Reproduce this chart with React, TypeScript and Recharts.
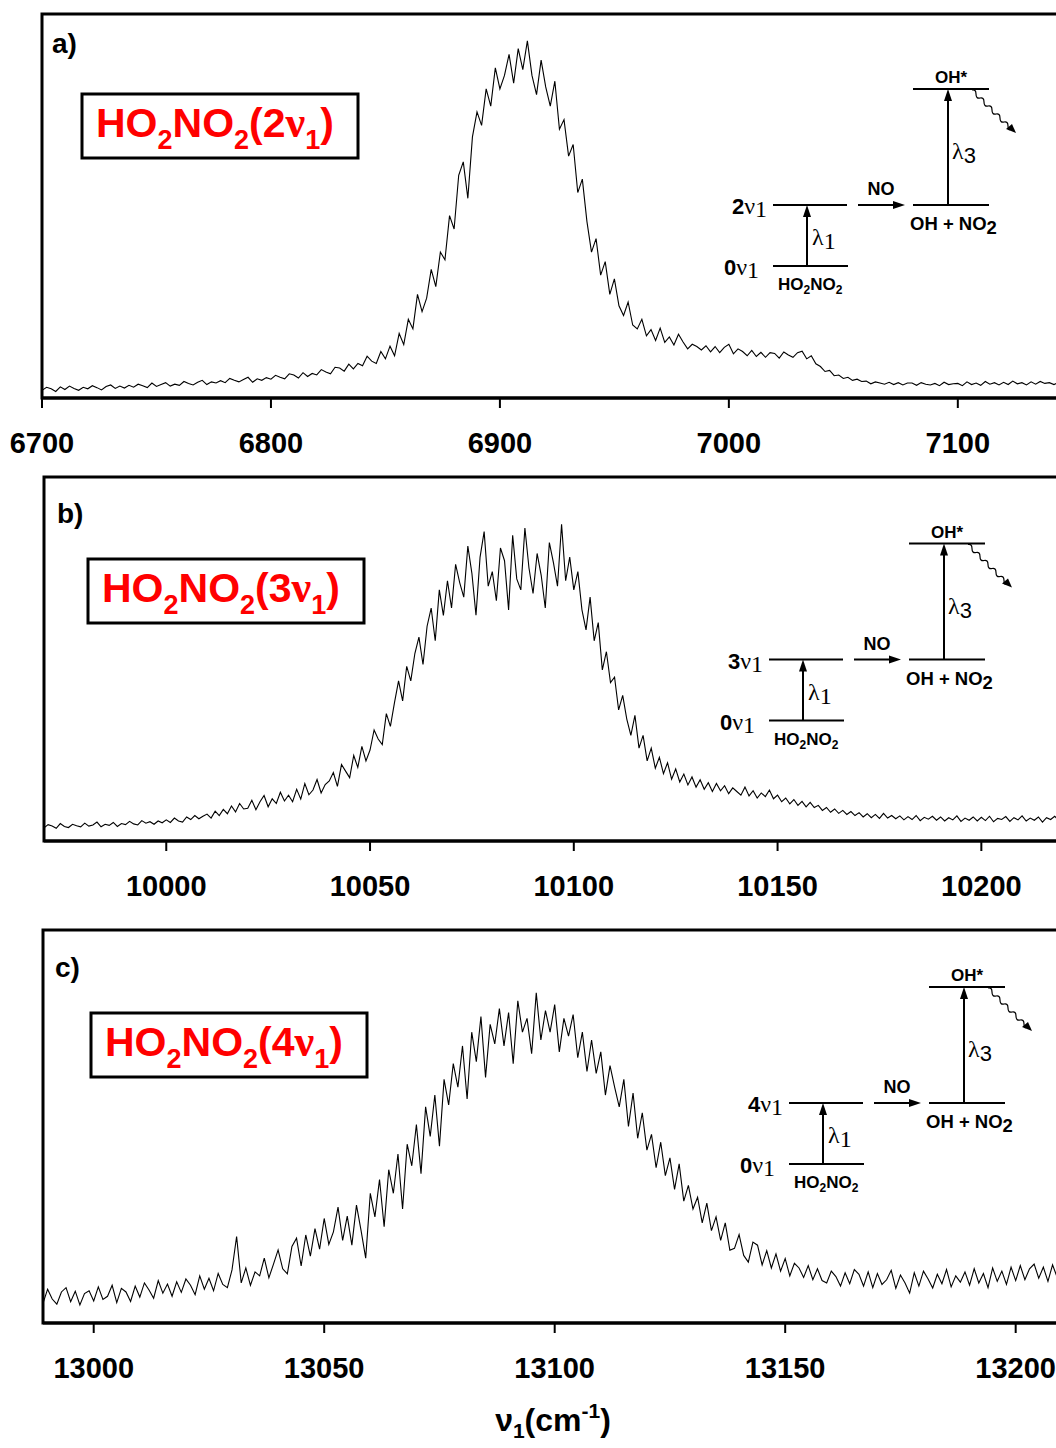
import React from 'react';
import { LineChart, Line, XAxis, YAxis, ReferenceArea } from 'recharts';

const SANS = "'Liberation Sans', Arial, sans-serif";
const SERIF = "'Liberation Serif', 'Times New Roman', serif";

// panel a: 2v1 band, sampled every 2 cm-1 from 6700
const A_START = 6700;
const A_STEP = 2;
const A_TICKS = [6700, 6800, 6900, 7000, 7100];
const A_SIGNAL = [
  2.0, 2.8, 2.4, 1.7, 2.9, 2.2, 3.1, 2.5, 2.0, 2.8,
  2.4, 3.2, 2.7, 2.1, 3.0, 3.4, 2.5, 3.1, 2.6, 3.3,
  2.8, 3.6, 3.2, 2.7, 3.9, 3.0, 3.5, 4.0, 3.1, 3.6,
  3.3, 4.3, 3.8, 3.4, 4.1, 4.6, 3.5, 4.2, 3.9, 4.5,
  4.0, 5.1, 4.6, 4.2, 4.8, 5.4, 4.1, 5.0, 4.6, 5.3,
  4.9, 5.9, 5.4, 5.0, 6.3, 6.0, 5.2, 6.6, 5.6, 6.4,
  6.0, 7.4, 6.8, 6.3, 8.0, 7.8, 7.0, 8.8, 7.6, 9.0,
  8.4, 10.9, 9.6, 9.0, 12.1, 10.2, 13.5, 11.0, 16.8, 13.9,
  20.5, 18.0, 27.0, 22.5, 26.0, 33.5, 29.0, 38.0, 36.0, 47.5,
  44.0, 58.0, 61.5, 52.0, 68.0, 74.5, 71.0, 80.5, 76.0, 86.0,
  80.5, 84.0, 89.5, 82.0, 91.0, 85.5, 93.0, 84.0, 79.0, 88.0,
  81.0, 76.0, 82.5, 70.0, 72.5, 63.0, 66.0, 53.5, 57.0, 46.0,
  38.0, 41.5, 32.0, 35.5, 27.0, 31.0, 24.0, 21.5, 25.0, 19.0,
  18.0, 20.5, 16.2, 17.8, 15.0, 18.2, 14.5, 15.9, 13.8, 16.6,
  14.6, 12.8, 14.0, 13.4, 12.5, 13.6, 12.0, 13.4, 11.8, 13.2,
  14.0, 11.5, 12.8, 12.1, 11.0, 12.4, 10.8, 11.9, 10.6, 11.8,
  11.6, 10.4, 12.0, 11.2, 10.6, 11.8, 12.2, 10.2, 11.0, 8.9,
  8.2, 6.9, 7.2, 5.8, 6.0, 5.1, 5.4, 4.6, 4.9, 4.3,
  4.4, 3.7, 4.2, 3.9, 3.6, 4.1, 3.5, 4.0, 3.4, 3.9,
  3.9, 3.3, 4.0, 3.6, 3.4, 3.8, 3.2, 4.1, 3.5, 3.7,
  3.8, 3.2, 4.2, 3.5, 3.9, 3.3, 4.3, 3.6, 4.0, 3.4,
  4.1, 3.5, 4.4, 3.7, 4.0, 3.4, 4.2, 3.6, 4.3, 3.8,
  4.0, 3.5, 4.1, 3.7, 4.2,
];

// panel b: 3v1 band, every 1 cm-1 from 9970
const B_START = 9970;
const B_STEP = 1;
const B_TICKS = [10000, 10050, 10100, 10150, 10200];
const B_SIGNAL = [
  3.6, 4.5, 4.1, 3.5, 4.8, 4.0, 3.7, 4.6, 4.2, 3.9,
  4.9, 4.1, 4.4, 5.2, 3.9, 4.6, 4.3, 5.1, 4.0, 4.8,
  4.5, 5.4, 4.7, 4.4, 5.6, 4.9, 5.3, 4.6, 5.5, 5.0,
  5.8, 5.1, 6.3, 5.5, 5.2, 6.6, 5.9, 7.0, 6.1, 6.8,
  7.4, 6.3, 8.2, 7.0, 8.7, 7.5, 9.6, 8.0, 10.3, 8.8,
  9.0, 11.2, 8.6, 10.8, 12.5, 9.4, 11.6, 10.3, 13.4, 11.0,
  12.6, 10.8, 14.2, 11.5, 15.8, 12.7, 14.0, 16.9, 13.2, 15.5,
  16.5, 18.8, 15.0, 21.0, 19.2, 17.4, 23.5, 20.2, 26.0, 22.0,
  25.0, 30.5, 28.0, 26.5, 35.0, 31.5, 38.0, 44.0, 38.5, 48.0,
  44.0, 51.5, 56.0, 48.5, 59.0, 64.0, 55.0, 69.0, 62.0, 71.5,
  64.0, 76.0, 71.0, 67.0, 81.0, 73.5, 62.0, 78.0, 85.0, 70.0,
  74.0, 66.0, 80.5, 77.0, 63.5, 84.0, 72.0, 69.0, 86.0, 75.0,
  68.0, 79.0, 73.0, 64.0, 82.0, 76.5, 70.0, 87.0, 71.5, 78.0,
  69.0, 74.0, 63.5, 58.0, 67.0, 55.0, 60.0, 47.0, 52.0, 43.5,
  45.0, 36.0, 40.0, 33.5, 29.0, 34.5, 25.5, 29.0, 22.0, 25.5,
  20.0, 23.0, 18.5, 21.5, 17.0, 19.8, 16.2, 18.4, 15.4, 17.6,
  14.8, 16.8, 14.2, 16.0, 13.6, 15.8, 13.8, 15.2, 13.0, 14.6,
  13.6, 12.6, 14.8, 12.4, 13.8, 11.8, 13.2, 12.2, 14.0, 11.6,
  12.6, 10.8, 11.8, 10.2, 11.4, 9.8, 10.9, 9.4, 10.6, 9.2,
  9.8, 8.4, 9.2, 7.9, 8.8, 7.6, 8.4, 7.3, 8.1, 7.0,
  7.8, 6.6, 7.5, 6.4, 7.3, 6.2, 7.6, 6.3, 7.0, 6.1,
  6.9, 5.8, 6.7, 5.9, 7.0, 5.6, 6.5, 6.0, 6.8, 5.7,
  6.6, 5.5, 6.4, 5.8, 6.9, 5.4, 6.3, 5.7, 6.6, 5.5,
  6.5, 5.6, 6.8, 5.3, 6.2, 5.9, 6.7, 5.4, 6.4, 5.8,
  6.9, 5.5, 6.3, 5.7, 6.6, 5.2, 6.4, 5.9, 6.8, 5.6,
  6.2, 5.8,
];

// panel c: 4v1 band, every 1 cm-1 from 12989
const C_START = 12989;
const C_STEP = 1;
const C_TICKS = [13000, 13050, 13100, 13150, 13200];
const C_SIGNAL = [
  5.0, 8.6, 6.1, 4.8, 7.9, 9.0, 5.4, 8.1, 4.6, 7.5,
  8.2, 5.6, 9.2, 6.0, 6.8, 9.6, 5.2, 8.8, 7.9, 5.5,
  9.4, 6.6, 10.2, 8.4, 6.3, 10.8, 7.6, 9.9, 6.8, 10.5,
  7.8, 11.2, 9.6, 7.2, 12.0, 8.6, 11.4, 8.2, 12.6, 9.8,
  9.0, 13.5, 22.0, 10.2, 14.0, 9.6, 13.0, 12.0, 16.5, 11.5,
  15.0, 18.6, 13.8, 12.5, 19.5, 21.6, 14.5, 22.4, 17.0, 24.0,
  18.8, 26.6, 20.0, 23.2, 29.5, 21.0, 27.2, 19.8, 30.0, 23.5,
  16.5, 33.0, 27.0, 36.5, 24.5, 39.0, 33.0, 43.0, 29.0, 45.5,
  40.0, 50.5, 38.0, 55.0, 47.5, 58.0, 45.0, 62.0, 55.5, 66.0,
  60.0, 70.5, 57.0, 74.0, 66.5, 78.0, 62.5, 76.0, 71.0, 80.0,
  70.5, 79.0, 66.0, 82.0, 74.0, 77.5, 68.5, 84.0, 72.0, 79.5,
  74.0, 81.0, 69.0, 77.5, 73.0, 78.5, 67.5, 74.0, 64.0, 72.0,
  63.5, 69.0, 58.0, 65.5, 60.0, 55.0, 62.0, 50.0, 58.5, 47.0,
  53.5, 44.0, 48.0, 39.5, 46.0, 37.5, 42.0, 34.0, 40.5, 31.0,
  35.0, 29.0, 32.0, 25.5, 30.5, 23.5, 27.0, 21.0, 25.5, 18.5,
  19.0, 22.5, 17.2, 15.5, 20.6, 19.8, 14.8, 18.4, 14.0, 17.6,
  13.2, 16.4, 12.0, 15.2, 14.0, 11.6, 14.6, 11.0, 13.8, 10.8,
  10.2, 13.2, 11.8, 9.4, 12.8, 10.0, 13.6, 12.4, 9.4, 13.0,
  9.0, 12.6, 9.8, 11.0, 13.4, 8.8, 12.2, 10.2, 7.6, 12.8,
  9.4, 13.2, 11.2, 8.9, 12.4, 10.0, 13.6, 9.2, 12.0, 10.4,
  13.0, 9.6, 13.8, 10.2, 12.6, 9.0, 14.0, 10.6, 13.2, 9.8,
  14.2, 10.8, 14.6, 11.0, 13.8, 15.0, 11.4, 14.2, 10.6, 14.8,
  11.6, 14.4, 10.8, 13.6,
];

const toRows = (start: number, step: number, values: number[]) =>
  values.map((v, i) => ({ x: start + i * step, y: v }));

interface PanelProps {
  data: { x: number; y: number }[];
  domain: [number, number];
  ticks: number[];
  top: number;
  left: number;
  plotTop: number;
  plotBottom: number;
  plotWidth: number;
}

const Panel: React.FC<PanelProps> = ({ data, domain, ticks, top, left, plotTop, plotBottom, plotWidth }) => {
  const height = 470;
  const axisH = 60;
  return (
    <div style={{ position: 'absolute', top, left: 0 }}>
      <LineChart
        width={left + plotWidth + 10}
        height={height}
        data={data}
        margin={{ top: plotTop - top, left, right: 10, bottom: top + height - plotBottom - axisH }}
      >
        <XAxis
          type="number"
          dataKey="x"
          domain={domain}
          ticks={ticks}
          allowDataOverflow
          height={axisH}
          axisLine={{ stroke: '#000', strokeWidth: 3 }}
          tickLine={{ stroke: '#000', strokeWidth: 2 }}
          tickSize={10}
          tickMargin={24}
          tick={{ fontSize: 29, fontWeight: 'bold', fill: '#000', fontFamily: SANS }}
        />
        <YAxis hide domain={[0, 100]} allowDataOverflow />
        <ReferenceArea x1={domain[0]} x2={domain[1]} y1={0} y2={100} fill="none" stroke="#000" strokeWidth={3} />
        <Line type="linear" dataKey="y" stroke="#000" strokeWidth={1.1} dot={false} isAnimationActive={false} />
      </LineChart>
    </div>
  );
};

const Sub: React.FC<{ children: React.ReactNode; size: number; dy: number }> = ({ children, size, dy }) => (
  <tspan fontSize={size} dy={dy}>{children}</tspan>
);

const TitleBox: React.FC<{ x: number; y: number; n: string }> = ({ x, y, n }) => (
  <g>
    <rect x={x} y={y} width={276} height={64} fill="#fff" stroke="#000" strokeWidth={3} />
    <text x={x + 14} y={y + 43} fill="#ff0000" fontFamily={SANS} fontWeight="bold" fontSize={41}>
      HO<Sub size={27} dy={12}>2</Sub>
      <tspan dy={-12}>NO</tspan>
      <Sub size={27} dy={12}>2</Sub>
      <tspan dy={-12}>({n}</tspan>
      <tspan fontFamily={SERIF} fontSize={44}>ν</tspan>
      <Sub size={27} dy={12}>1</Sub>
      <tspan dy={-12}>)</tspan>
    </text>
  </g>
);

const Arrow: React.FC<{ x1: number; y1: number; x2: number; y2: number }> = ({ x1, y1, x2, y2 }) => {
  const vertical = x1 === x2;
  const head = vertical
    ? `${x2},${y2} ${x2 - 4},${y2 + 12} ${x2 + 4},${y2 + 12}`
    : `${x2},${y2} ${x2 - 12},${y2 - 4} ${x2 - 12},${y2 + 4}`;
  return (
    <g>
      <line x1={x1} y1={y1} x2={vertical ? x2 : x2 - 8} y2={vertical ? y2 + 8 : y2} stroke="#000" strokeWidth={2} />
      <polygon points={head} fill="#000" />
    </g>
  );
};

const Scheme: React.FC<{ dx: number; dy: number; n: string }> = ({ dx, dy, n }) => (
  <g transform={`translate(${dx},${dy})`} fontFamily={SANS} fill="#000">
    <line x1={773} y1={205} x2={847} y2={205} stroke="#000" strokeWidth={2} />
    <line x1={773} y1={266} x2={848} y2={266} stroke="#000" strokeWidth={2} />
    <text x={767} y={214} textAnchor="end" fontSize={22}>
      <tspan fontWeight="bold">{n}</tspan>
      <tspan fontFamily={SERIF} fontSize={24}>ν</tspan>
      <tspan fontFamily={SERIF} fontSize={24} dy={3}>1</tspan>
    </text>
    <text x={759} y={275} textAnchor="end" fontSize={22}>
      <tspan fontWeight="bold">0</tspan>
      <tspan fontFamily={SERIF} fontSize={24}>ν</tspan>
      <tspan fontFamily={SERIF} fontSize={24} dy={3}>1</tspan>
    </text>
    <Arrow x1={807} y1={266} x2={807} y2={205} />
    <text x={812} y={245} fontSize={24} fontFamily={SERIF}>
      λ<tspan dy={4}>1</tspan>
    </text>
    <text x={778} y={290} fontSize={17} fontWeight="bold">
      HO<tspan fontSize={12} dy={4}>2</tspan>
      <tspan dy={-4}>NO</tspan>
      <tspan fontSize={12} dy={4}>2</tspan>
    </text>
    <text x={881} y={195} fontSize={18} fontWeight="bold" textAnchor="middle">NO</text>
    <Arrow x1={858} y1={205} x2={905} y2={205} />
    <line x1={913} y1={205} x2={989} y2={205} stroke="#000" strokeWidth={2} />
    <line x1={913} y1={89} x2={989} y2={89} stroke="#000" strokeWidth={2} />
    <Arrow x1={948} y1={205} x2={948} y2={89} />
    <text x={910} y={230} fontSize={18.5} fontWeight="bold">
      OH + NO<tspan dy={4}>2</tspan>
    </text>
    <text x={951} y={83} fontSize={17} fontWeight="bold" textAnchor="middle">OH*</text>
    <text x={952} y={159} fontSize={24}>
      <tspan fontFamily={SERIF}>λ</tspan>
      <tspan dy={4} fontSize={22}>3</tspan>
    </text>
    <path
      d="M972,90 q4,-1 4,4 t4,4 t4,4 t4,4 t4,4 t4,4 t4,4 t4,4 t4,4 t3,3"
      fill="none"
      stroke="#000"
      strokeWidth={1.2}
    />
    <polygon points="1016,133 1006,129 1012,124" fill="#000" />
  </g>
);

const Annotations: React.FC = () => (
  <svg width={1056} height={1448} style={{ position: 'absolute', left: 0, top: 0, pointerEvents: 'none' }}>
    <g fontFamily={SANS} fontWeight="bold" fontSize={28} fill="#000">
      <text x={52} y={53}>a)</text>
      <text x={57} y={523}>b)</text>
      <text x={55} y={977}>c)</text>
    </g>
    <TitleBox x={82} y={94} n="2" />
    <TitleBox x={88} y={559} n="3" />
    <TitleBox x={91} y={1013} n="4" />
    <Scheme dx={0} dy={0} n="2" />
    <Scheme dx={-4} dy={454.5} n="3" />
    <Scheme dx={16} dy={898} n="4" />
    <text x={553} y={1431} textAnchor="middle" fontFamily={SANS} fontWeight="bold" fontSize={32} fill="#000">
      ν<tspan fontSize={21} dy={7}>1</tspan>
      <tspan dy={-7}>(cm</tspan>
      <tspan fontSize={21} dy={-13}>-1</tspan>
      <tspan dy={13}>)</tspan>
    </text>
  </svg>
);

const App: React.FC = () => {
  const dataA = toRows(A_START, A_STEP, A_SIGNAL);
  const dataB = toRows(B_START, B_STEP, B_SIGNAL);
  const dataC = toRows(C_START, C_STEP, C_SIGNAL);
  return (
    <div style={{ position: 'absolute', left: 0, top: 0, width: 1056, height: 1448, overflow: 'hidden', background: '#fff' }}>
      <Panel data={dataA} domain={[6700, 7149]} ticks={A_TICKS} top={0} left={42} plotTop={14} plotBottom={398} plotWidth={1028} />
      <Panel data={dataB} domain={[9970, 10222]} ticks={B_TICKS} top={463} left={44} plotTop={477} plotBottom={841} plotWidth={1027} />
      <Panel data={dataC} domain={[12989, 13212]} ticks={C_TICKS} top={916} left={43} plotTop={930} plotBottom={1323} plotWidth={1028} />
      <Annotations />
    </div>
  );
};

export default App;
